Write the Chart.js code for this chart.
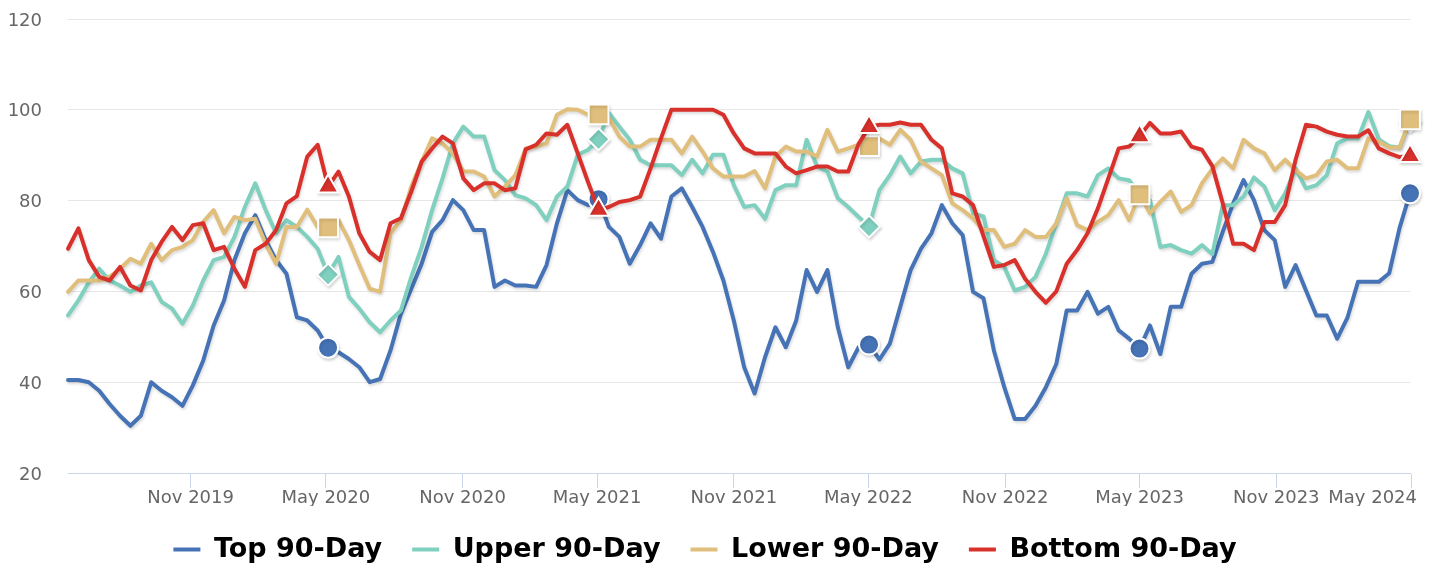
<!DOCTYPE html>
<html>
<head>
<meta charset="utf-8">
<script src="https://cdn.jsdelivr.net/npm/chart.js@4.4.1/dist/chart.umd.min.js"></script>
<style>
  html, body { margin: 0; padding: 0; background: #fff; }
</style>
</head>
<body>
<canvas id="myChart" width="1430" height="564"></canvas>
<script>
// one point every two weeks, first one on 20 May 2019
var firstDate = '2019-05-20';
var stepDays = 14;
var pointsPerYear = 26;

var tickDates = ['2019-11-01', '2020-05-01', '2020-11-01', '2021-05-01', '2021-11-01',
  '2022-05-01', '2022-11-01', '2023-05-01', '2023-11-01', '2024-05-01'];
var tickLabels = ['Nov 2019', 'May 2020', 'Nov 2020', 'May 2021', 'Nov 2021',
  'May 2022', 'Nov 2022', 'May 2023', 'Nov 2023', 'May 2024'];

var seriesNames = ['Top 90-Day', 'Upper 90-Day', 'Lower 90-Day', 'Bottom 90-Day'];

var topValues = [40.5, 40.5, 40, 38.1, 35.2, 32.6, 30.4, 32.6, 40, 38.1,
  36.7, 34.8, 39.3, 44.8, 52.5, 58, 66.9, 72.8, 76.8, 71.3,
  66.9, 63.9, 54.3, 53.6, 51.4, 47.6, 46.6, 45.1, 43.3, 40,
  40.7, 47, 55.1, 60.6, 66.1, 73.1, 75.7, 80.1, 77.9, 73.5,
  73.5, 61, 62.4, 61.3, 61.3, 61, 65.8, 75, 82.3, 80.1,
  79, 80.3, 74.2, 72, 66.1, 70.2, 75, 71.6, 80.9, 82.7,
  78.6, 74.2, 68.7, 62.4, 53.6, 43.3, 37.5, 45.5, 52.1, 47.7,
  53.6, 64.7, 59.9, 64.7, 52.1, 43.3, 47.7, 48.3, 45, 48.5,
  56.6, 64.7, 69.4, 72.8, 79, 75, 72.4, 59.9, 58.5, 47,
  38.9, 31.9, 31.9, 34.8, 38.9, 44, 55.8, 55.8, 59.9, 55.1,
  56.6, 51.4, 49.6, 47.4, 52.5, 46.2, 56.6, 56.6, 63.9, 66.1,
  66.5, 73.1, 79.4, 84.5, 80.1, 73.5, 71.3, 61, 65.8, 60.2,
  54.7, 54.7, 49.6, 54.3, 62.1, 62.1, 62.1, 64, 74, 81.6];

var upperValues = [54.7, 58, 62, 65, 62.4, 61.3, 59.9, 61.3, 62, 57.7,
  56.2, 52.9, 56.9, 62.4, 66.9, 67.6, 72, 78.6, 83.8, 77.9,
  72.8, 75.7, 74.2, 72, 69.4, 63.7, 67.6, 58.8, 56.2, 53.2,
  51, 53.6, 55.8, 63.2, 69.8, 77.9, 84.9, 92.6, 96.3, 94.1,
  94.1, 86.7, 84.5, 81.2, 80.5, 79, 75.7, 80.9, 83.1, 90.1,
  91.2, 93.5, 99.3, 96.3, 93.4, 89, 87.8, 87.8, 87.8, 85.6,
  89, 86, 90.1, 90.1, 83.4, 78.6, 79, 76, 82.3, 83.4,
  83.4, 93.4, 87.5, 86.4, 80.5, 78.6, 76.4, 74.3, 82.3, 85.6,
  89.7, 86, 88.6, 89, 89, 87.1, 86, 77.2, 76.5, 66.9,
  65.4, 60.2, 61, 63.2, 68.3, 75, 81.6, 81.6, 80.9, 85.6,
  87.1, 84.9, 84.5, 81.5, 80.1, 69.8, 70.2, 69.1, 68.3, 70.2,
  68.2, 79, 79, 80.9, 85.1, 83.1, 77.9, 81.6, 87.1, 82.7,
  83.4, 85.6, 92.6, 93.7, 93.7, 99.5, 93.5, 92, 91.7, 97.5];

var lowerValues = [59.9, 62.4, 62.4, 62.4, 63.2, 65, 67.2, 66.1, 70.5, 66.9,
  69.1, 69.8, 71.3, 75.3, 77.9, 72.8, 76.4, 75.7, 76, 70.5,
  66.1, 74.2, 74.2, 78, 74.2, 74.1, 75.7, 71.3, 65.8, 60.6,
  59.9, 72.8, 75.7, 83.1, 88.6, 93.7, 92.6, 90.4, 86.4, 86.4,
  85.3, 80.9, 83.1, 85.6, 91.5, 91.9, 92.6, 98.9, 100.1, 100,
  98.9, 99, 98.2, 94.1, 91.9, 91.9, 93.4, 93.4, 93.4, 90.4,
  94.1, 90.8, 87.1, 85.3, 85.3, 85.3, 86.5, 82.7, 89.7, 91.9,
  90.8, 90.8, 89.7, 95.6, 90.8, 91.5, 92.3, 92, 93.7, 92.3,
  95.6, 93.4, 88.6, 87.1, 85.6, 79.4, 77.9, 76.1, 73.5, 73.5,
  69.8, 70.5, 73.5, 72, 72, 75, 80.5, 74.6, 73.5, 75.3,
  76.8, 80.1, 75.7, 81.4, 77.2, 79.7, 82, 77.5, 79, 83.8,
  87, 89.3, 87.1, 93.4, 91.5, 90.4, 86.7, 89, 86.7, 84.9,
  85.6, 88.6, 89, 87.1, 87.1, 93.7, 93, 91.7, 91.7, 97.9];

var bottomValues = [69.4, 73.9, 66.9, 63.2, 62.4, 65.4, 61.3, 60.2, 66.9, 70.9,
  74.2, 71.3, 74.6, 75, 69.1, 69.8, 65, 61, 69.1, 70.5,
  73.5, 79.4, 81, 89.7, 92.3, 83.1, 86.4, 80.9, 72.8, 68.7,
  66.9, 75, 76.1, 82, 88.6, 91.5, 94.1, 92.6, 84.9, 82.3,
  83.8, 83.8, 82.3, 82.7, 91.3, 92.3, 94.8, 94.5, 96.7, 90.4,
  84, 78, 78.6, 79.7, 80.1, 80.9, 87.1, 93.7, 100, 100,
  100, 100, 100, 98.9, 94.8, 91.5, 90.4, 90.4, 90.4, 87.5,
  86, 86.7, 87.5, 87.5, 86.4, 86.4, 92.5, 96.2, 96.7, 96.7,
  97.2, 96.7, 96.7, 93.4, 91.5, 81.6, 80.9, 79, 72.2, 65.4,
  65.8, 66.9, 62.8, 59.9, 57.5, 60, 66.1, 69.1, 72.8, 78.3,
  84.9, 91.5, 91.9, 94.2, 97.1, 94.8, 94.8, 95.2, 91.9, 91.2,
  87.6, 79.4, 70.5, 70.5, 69.1, 75.3, 75.3, 79, 89, 96.7,
  96.3, 95.2, 94.5, 94.1, 94.1, 95.5, 91.5, 90.4, 89.6, 89.8];

var colors = ['#4573b6', '#7fd0bf', '#e0bf7c', '#d8302b'];
var markerStyles = ['circle', 'rectRot', 'rect', 'triangle'];
var markerSizes = [10, 11, 14, 12];

function dayOffset(s) {
  return (Date.parse(s) - Date.parse(firstDate)) / 86400000;
}

function toPoints(values) {
  return values.map(function (v, i) {
    return { x: i * stepDays, y: v };
  });
}

var lastIndex = topValues.length - 1;

// marker once a year, counted back from the latest point
function isMarker(i) {
  return (lastIndex - i) % pointsPerYear === 0;
}

var allValues = [topValues, upperValues, lowerValues, bottomValues];

var datasets = allValues.map(function (values, k) {
  return {
    label: seriesNames[k],
    data: toPoints(values),
    borderColor: colors[k],
    backgroundColor: colors[k],
    borderWidth: 4,
    borderJoinStyle: 'round',
    borderCapStyle: 'round',
    tension: 0,
    fill: false,
    clip: false,
    order: 4 - k,
    pointStyle: markerStyles[k],
    pointRadius: function (ctx) { return isMarker(ctx.dataIndex) ? markerSizes[k] : 0; },
    pointHoverRadius: function (ctx) { return isMarker(ctx.dataIndex) ? markerSizes[k] : 0; },
    pointBackgroundColor: colors[k],
    pointBorderColor: '#ffffff',
    pointBorderWidth: 2
  };
});

var lineShadow = {
  id: 'lineShadow',
  beforeDatasetDraw: function (chart) {
    var ctx = chart.ctx;
    ctx.save();
    ctx.shadowColor = 'rgba(0, 0, 0, 0.15)';
    ctx.shadowBlur = 3;
    ctx.shadowOffsetX = 1;
    ctx.shadowOffsetY = 2;
  },
  afterDatasetDraw: function (chart) {
    chart.ctx.restore();
  }
};

// keep the last date label inside the canvas
var lastLabelInside = {
  id: 'lastLabelInside',
  beforeDraw: function (chart) {
    var items = chart.scales.x.getLabelItems();
    var last = items[items.length - 1];
    if (!last) return;
    last.options.textAlign = 'right';
    last.options.translation[0] = chart.width - 13;
  }
};

Chart.defaults.font.family = 'DejaVu Sans';

var ctx = document.getElementById('myChart').getContext('2d');
var myChart = new Chart(ctx, {
  type: 'line',
  data: { datasets: datasets },
  plugins: [lineShadow, lastLabelInside],
  options: {
    responsive: false,
    animation: false,
    events: [],
    layout: { padding: { left: 0, right: 20, top: 19, bottom: -9 } },
    plugins: {
      tooltip: { enabled: false },
      legend: {
        position: 'bottom',
        labels: {
          boxWidth: 27,
          boxHeight: 4,
          padding: 30,
          color: '#333333',
          font: { size: 27, weight: 'bold' },
          sort: function (a, b) { return a.datasetIndex - b.datasetIndex; },
          generateLabels: function (chart) {
            return chart.data.datasets.map(function (ds, i) {
              return {
                text: ds.label,
                fillStyle: ds.borderColor,
                strokeStyle: ds.borderColor,
                lineWidth: 0,
                hidden: false,
                datasetIndex: i
              };
            });
          }
        }
      }
    },
    scales: {
      x: {
        type: 'linear',
        min: 0,
        max: lastIndex * stepDays,
        afterBuildTicks: function (scale) {
          scale.ticks = tickDates.map(function (d) { return { value: dayOffset(d) }; });
        },
        afterFit: function (scale) {
          scale.height = 33;
          scale.paddingLeft = 0;
          scale.paddingRight = 0;
        },
        ticks: {
          autoSkip: false,
          maxRotation: 0,
          padding: 0,
          color: '#666666',
          font: { size: 18 },
          callback: function (value, index) { return tickLabels[index]; }
        },
        grid: { drawOnChartArea: false, drawTicks: true, tickLength: 15, color: '#ccd6eb' },
        border: { color: '#ccd6eb', width: 1 }
      },
      y: {
        min: 20,
        max: 120,
        afterFit: function (scale) {
          scale.width = 68;
          scale.paddingTop = 0;
          scale.paddingBottom = 0;
        },
        ticks: { stepSize: 20, padding: 26, labelOffset: 2, color: '#666666', font: { size: 18 } },
        grid: { color: '#e6e6e6', drawTicks: false },
        border: { display: false }
      }
    }
  }
});
</script>
</body>
</html>
